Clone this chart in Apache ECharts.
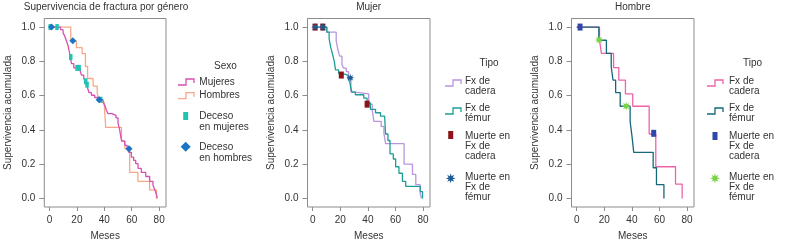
<!DOCTYPE html>
<html><head><meta charset="utf-8">
<script src="https://cdn.jsdelivr.net/npm/echarts@6/dist/echarts.min.js"></script>
<style>html,body{margin:0;padding:0;background:#fff}#c{width:800px;height:246px}</style>
</head><body><div id="c"></div>
<script>
// ---------- DATA ----------
const xTicks = [0, 20, 40, 60, 80];
const yTicks = [0, 0.2, 0.4, 0.6, 0.8, 1.0];
const titles = ['Supervivencia de fractura por género', 'Mujer', 'Hombre'];

// Panel 1: by sex
const mujeresT = [0, 8.0, 9.9, 11.1, 12.4, 13.6, 14.3, 15.3, 16.0, 17.7, 22.5, 23.3, 25.0, 26.0, 27.0, 27.7, 28.9, 30.6, 33.0, 36.2, 39.1, 40.5, 41.5, 42.7, 45.5, 48.5, 50.0, 51.2, 52.0, 52.8, 54.9, 56.6, 58.0, 59.7, 61.4, 62.9, 64.6, 67.0, 70.2, 73.1, 75.5, 76.7, 78.0, 78.7];
const mujeresS = [1.0, 0.985, 0.966, 0.947, 0.919, 0.89, 0.862, 0.825, 0.787, 0.762, 0.74, 0.72, 0.70, 0.684, 0.664, 0.646, 0.617, 0.602, 0.589, 0.576, 0.561, 0.54, 0.515, 0.495, 0.485, 0.47, 0.44, 0.40, 0.36, 0.335, 0.31, 0.288, 0.269, 0.241, 0.222, 0.203, 0.175, 0.152, 0.128, 0.10, 0.077, 0.053, 0.024, 0.0];
const hombresT = [0, 15.5, 19.6, 23.8, 26.2, 27.8, 31.8, 34.8, 36.0, 38.5, 40.0, 41.0, 52.5, 55.0, 58.5, 64.5, 73.0, 78.0];
const hombresS = [1.0, 0.92, 0.88, 0.845, 0.77, 0.70, 0.655, 0.615, 0.576, 0.56, 0.54, 0.415, 0.335, 0.29, 0.152, 0.10, 0.05, 0.0];
const decesoMujT = [0.5, 5.5, 15.5, 20.1, 21.6, 26.4, 27.4, 37.4];
const decesoMujS = [1.0, 1.0, 0.825, 0.762, 0.762, 0.684, 0.664, 0.576];
const decesoHomT = [1.5, 17.0, 36.2, 58.0];
const decesoHomS = [1.0, 0.92, 0.576, 0.29];

// Panel 2: women by fracture type
const mCaderaT = [0, 10.2, 17.0, 18.2, 19.5, 21.2, 22.4, 24.3, 26.0, 27.7, 30.9, 40.6, 43.1, 44.3, 49.6, 51.6, 52.8, 66.2, 72.3, 74.7, 77.9, 78.8];
const mCaderaS = [1.0, 0.97, 0.92, 0.87, 0.83, 0.78, 0.76, 0.74, 0.70, 0.62, 0.61, 0.55, 0.52, 0.45, 0.42, 0.38, 0.32, 0.20, 0.14, 0.08, 0.03, 0.0];
const mFemurT = [0, 10.2, 11.9, 13.1, 14.4, 15.6, 16.5, 18.7, 21.2, 25.5, 26.8, 27.7, 28.5, 30.9, 37.0, 39.4, 41.8, 45.5, 49.1, 52.1, 52.8, 54.5, 56.0, 58.4, 60.1, 62.5, 65.0, 67.4, 77.9, 79.6];
const mFemurS = [1.0, 0.97, 0.93, 0.88, 0.84, 0.80, 0.75, 0.73, 0.72, 0.70, 0.68, 0.64, 0.62, 0.605, 0.585, 0.557, 0.52, 0.50, 0.48, 0.47, 0.376, 0.338, 0.26, 0.23, 0.185, 0.147, 0.10, 0.07, 0.04, 0.0];
const mMuerteCadT = [1.7, 7.3, 20.7, 39.4];
const mMuerteCadS = [1.0, 1.0, 0.72, 0.55];
const mMuerteFemT = [1.7, 7.3, 27.3];
const mMuerteFemS = [1.0, 1.0, 0.704];

// Panel 3: men by fracture type
const hCaderaT = [0, 16.5, 17.9, 26.7, 30.5, 35.3, 40.6, 52.5, 57.3, 71.6, 76.4];
const hCaderaS = [1.0, 0.923, 0.846, 0.763, 0.69, 0.61, 0.538, 0.376, 0.185, 0.084, 0.0];
const hFemurT = [0, 16.0, 21.5, 25.0, 26.3, 28.2, 31.5, 38.7, 40.1, 41.3, 55.4, 57.8, 63.2];
const hFemurS = [1.0, 0.923, 0.846, 0.767, 0.69, 0.618, 0.538, 0.449, 0.359, 0.269, 0.179, 0.08, 0.0];
const hMuerteCadT = [2.4, 55.8];
const hMuerteCadS = [1.0, 0.38];
const hMuerteFemT = [16.2, 35.8];
const hMuerteFemS = [0.925, 0.538];

// ---------- STYLE ----------
const FONT = 'Liberation Sans, Arial, sans-serif';
const TXT = '#333';
const BOX = '#8c8c8c';
const pairs = (t, s) => t.map((v, i) => [v, s[i]]);
function starPts(cx, cy, r, ri, n) {
  const p = [];
  for (let i = 0; i < 2 * n; i++) {
    const a = Math.PI * i / n - Math.PI / 2;
    const rr = i % 2 ? ri : r;
    p.push([cx + rr * Math.cos(a), cy + rr * Math.sin(a)]);
  }
  return p;
}
function starPath(n, ri) {
  const p = starPts(50, 50, 50, 50 * ri, n);
  return 'path://M' + p.map(q => q[0].toFixed(1) + ',' + q[1].toFixed(1)).join('L') + 'Z';
}
const STAR = starPath(8, 0.45);

const grids = [
  { left: 44.3, width: 121.7 },
  { left: 307.5, width: 122.5 },
  { left: 571.5, width: 122.5 }
].map(g => ({ left: g.left, width: g.width, top: 18.5, height: 194, show: true, borderColor: BOX, borderWidth: 1, containLabel: false }));

const xAxes = grids.map((g, i) => ({
  gridIndex: i, type: 'value', min: -3.8, max: 85,
  axisLine: { show: false, onZero: false },
  splitLine: { show: false },
  axisTick: { show: true, length: 4, lineStyle: { color: BOX }, customValues: xTicks },
  axisLabel: { customValues: xTicks, margin: 8, fontSize: 10, color: TXT, fontFamily: FONT },
  name: 'Meses', nameLocation: 'middle', nameGap: 24,
  nameTextStyle: { fontSize: 10, color: TXT, fontFamily: FONT }
}));
const yAxes = grids.map((g, i) => ({
  gridIndex: i, type: 'value', min: -0.05, max: 1.05,
  axisLine: { show: false, onZero: false },
  splitLine: { show: false },
  axisTick: { show: true, length: 5, lineStyle: { color: BOX }, customValues: yTicks },
  axisLabel: { customValues: yTicks, margin: 9, fontSize: 10, color: TXT, fontFamily: FONT, formatter: v => v.toFixed(1) },
  name: 'Supervivencia acumulada', nameLocation: 'middle', nameGap: 31, nameRotate: 90,
  nameTextStyle: { fontSize: 10, color: TXT, fontFamily: FONT }
}));

function stepLine(i, t, s, color) {
  return { type: 'line', xAxisIndex: i, yAxisIndex: i, step: 'end', showSymbol: false, symbol: 'none',
    data: pairs(t, s), lineStyle: { color, width: 1.3 }, itemStyle: { color }, z: 2, silent: true };
}
function marks(i, t, s, color, symbol, size) {
  return { type: 'scatter', xAxisIndex: i, yAxisIndex: i, data: pairs(t, s), symbol, symbolSize: size,
    itemStyle: { color, opacity: 1 }, z: 3, silent: true };
}

const C = {
  muj: '#d64fb3', hom: '#f7a886', decM: '#22c4b0', decH: '#1b74c6',
  mCad: '#b796de', mFem: '#1b9e96', mMC: '#8c1418', mMF: '#1e5a96',
  hCad: '#ee62a7', hFem: '#15687c', hMC: '#2f47ab', hMF: '#78d444'
};

const series = [
  stepLine(0, hombresT, hombresS, C.hom),
  stepLine(0, mujeresT, mujeresS, C.muj),
  marks(0, decesoMujT, decesoMujS, C.decM, 'rect', [3.5, 6]),
  marks(0, decesoHomT, decesoHomS, C.decH, 'diamond', [7, 7]),
  stepLine(1, mCaderaT, mCaderaS, C.mCad),
  stepLine(1, mFemurT, mFemurS, C.mFem),
  marks(1, mMuerteCadT, mMuerteCadS, C.mMC, 'rect', [5, 7]),
  marks(1, mMuerteFemT, mMuerteFemS, C.mMF, STAR, [8, 8]),
  stepLine(2, hCaderaT, hCaderaS, C.hCad),
  stepLine(2, hFemurT, hFemurS, C.hFem),
  marks(2, hMuerteCadT, hMuerteCadS, C.hMC, 'rect', [5, 7]),
  marks(2, hMuerteFemT, hMuerteFemS, C.hMF, STAR, [9, 9])
];

// ---------- TITLES & LEGENDS (graphic) ----------
const g = [];
function txt(x, y, text, opt) {
  opt = opt || {};
  g.push({ type: 'text', x, y, silent: true, style: { text, font: (opt.size || 10) + 'px ' + FONT, fill: TXT,
    align: opt.align || 'left', textAlign: opt.align || 'left', verticalAlign: 'middle', textVerticalAlign: 'middle', lineHeight: opt.lh || 10.5 } });
}
function stepIcon(x, y, color) {
  g.push({ type: 'polyline', silent: true, shape: { points: [[x, y + 3], [x + 8, y + 3], [x + 8, y - 3], [x + 16, y - 3], [x + 16, y + 1]] },
    style: { stroke: color, lineWidth: 1.3, fill: null } });
}
function rectIcon(cx, cy, w, h, color) {
  g.push({ type: 'rect', silent: true, shape: { x: cx - w / 2, y: cy - h / 2, width: w, height: h }, style: { fill: color } });
}
function diamondIcon(cx, cy, r, color) {
  g.push({ type: 'polygon', silent: true, shape: { points: [[cx, cy - r], [cx + r, cy], [cx, cy + r], [cx - r, cy]] }, style: { fill: color } });
}
function starIcon(cx, cy, r, color) {
  g.push({ type: 'polygon', silent: true, shape: { points: starPts(cx, cy, r, r * 0.45, 8) }, style: { fill: color } });
}

// titles
txt(106, 7, titles[0], { align: 'center' });
txt(368.7, 7, titles[1], { align: 'center' });
txt(632.7, 7, titles[2], { align: 'center' });

// legend 1
txt(225.5, 66.7, 'Sexo', { align: 'center' });
stepIcon(178, 82, C.muj); txt(199.3, 82, 'Mujeres');
stepIcon(178, 95.7, C.hom); txt(199.3, 95.7, 'Hombres');
rectIcon(185.7, 116, 5, 8, C.decM); txt(199.3, 121.8, 'Deceso\nen mujeres', { lh: 11.5 });
diamondIcon(185.7, 146.7, 5, C.decH); txt(199.3, 152.5, 'Deceso\nen hombres', { lh: 11.5 });

// legend 2
txt(489, 63, 'Tipo', { align: 'center' });
stepIcon(445, 83, C.mCad); txt(465, 86.7, 'Fx de\ncadera', { lh: 10 });
stepIcon(445, 111, C.mFem); txt(465, 113.7, 'Fx de\nfémur', { lh: 10 });
rectIcon(450.7, 135, 5, 8, C.mMC); txt(465, 146.7, 'Muerte en\nFx de\ncadera', { lh: 10 });
starIcon(450.7, 178.3, 5, C.mMF); txt(465, 187.7, 'Muerte en\nFx de\nfémur', { lh: 10 });

// legend 3
txt(752.5, 63.3, 'Tipo', { align: 'center' });
stepIcon(707, 83, C.hCad); txt(729, 86.7, 'Fx de\ncadera', { lh: 10 });
stepIcon(707, 111, C.hFem); txt(729, 113.7, 'Fx de\nfémur', { lh: 10 });
rectIcon(715, 136, 5, 8, C.hMC); txt(729, 146.7, 'Muerte en\nFx de\ncadera', { lh: 10 });
starIcon(715, 178.3, 5, C.hMF); txt(729, 187.7, 'Muerte en\nFx de\nfémur', { lh: 10 });

const chart = echarts.init(document.getElementById('c'), null, { renderer: 'canvas' });
chart.setOption({
  animation: false,
  backgroundColor: '#fff',
  textStyle: { fontFamily: FONT },
  grid: grids, xAxis: xAxes, yAxis: yAxes, series, graphic: g
});
</script></body></html>
